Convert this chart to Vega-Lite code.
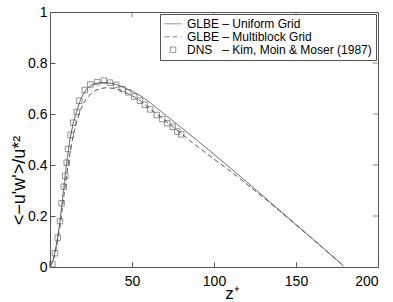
{
  "$schema": "https://vega.github.io/schema/vega-lite/v6.json",
  "autosize": {"type": "none"},
  "padding": {"left": 50, "top": 12, "right": 15, "bottom": 35},
  "width": 328,
  "height": 255,
  "config": {
    "view": {"stroke": "#555", "strokeWidth": 1},
    "font": "Liberation Sans",
    "axis": {
      "domain": false, "grid": false,
      "labelFont": "Liberation Sans", "labelFontSize": 14, "labelColor": "black",
      "tickColor": "#555", "tickWidth": 1,
      "titleFont": "Liberation Sans", "titleFontSize": 17, "titleColor": "black", "titleFontWeight": "normal"
    },
    "legend": {
      "orient": "top-right", "offset": 2,
      "fillColor": "white", "strokeColor": "#555", "padding": 4,
      "labelFont": "Liberation Sans", "labelFontSize": 12, "labelColor": "black", "labelLimit": 300,
      "labelOffset": 5, "rowPadding": 0, "clipHeight": 11.5,
      "symbolStrokeWidth": 1, "symbolStrokeColor": "#555", "symbolFillColor": "transparent"
    }
  },
  "datasets": {
    "lines": [
      {"series": "GLBE – Uniform Grid", "z": 0, "v": 0},
      {"series": "GLBE – Uniform Grid", "z": 2, "v": 0.03},
      {"series": "GLBE – Uniform Grid", "z": 4, "v": 0.09},
      {"series": "GLBE – Uniform Grid", "z": 6, "v": 0.175},
      {"series": "GLBE – Uniform Grid", "z": 8, "v": 0.29},
      {"series": "GLBE – Uniform Grid", "z": 10, "v": 0.40},
      {"series": "GLBE – Uniform Grid", "z": 12, "v": 0.495},
      {"series": "GLBE – Uniform Grid", "z": 14, "v": 0.56},
      {"series": "GLBE – Uniform Grid", "z": 16, "v": 0.605},
      {"series": "GLBE – Uniform Grid", "z": 18, "v": 0.645},
      {"series": "GLBE – Uniform Grid", "z": 20, "v": 0.675},
      {"series": "GLBE – Uniform Grid", "z": 22, "v": 0.695},
      {"series": "GLBE – Uniform Grid", "z": 25, "v": 0.712},
      {"series": "GLBE – Uniform Grid", "z": 28, "v": 0.72},
      {"series": "GLBE – Uniform Grid", "z": 32, "v": 0.724},
      {"series": "GLBE – Uniform Grid", "z": 36, "v": 0.722},
      {"series": "GLBE – Uniform Grid", "z": 40, "v": 0.716},
      {"series": "GLBE – Uniform Grid", "z": 45, "v": 0.704},
      {"series": "GLBE – Uniform Grid", "z": 50, "v": 0.689},
      {"series": "GLBE – Uniform Grid", "z": 55, "v": 0.672},
      {"series": "GLBE – Uniform Grid", "z": 60, "v": 0.65},
      {"series": "GLBE – Uniform Grid", "z": 65, "v": 0.624},
      {"series": "GLBE – Uniform Grid", "z": 70, "v": 0.598},
      {"series": "GLBE – Uniform Grid", "z": 80, "v": 0.547},
      {"series": "GLBE – Uniform Grid", "z": 90, "v": 0.495},
      {"series": "GLBE – Uniform Grid", "z": 100, "v": 0.442},
      {"series": "GLBE – Uniform Grid", "z": 110, "v": 0.388},
      {"series": "GLBE – Uniform Grid", "z": 120, "v": 0.333},
      {"series": "GLBE – Uniform Grid", "z": 130, "v": 0.278},
      {"series": "GLBE – Uniform Grid", "z": 140, "v": 0.222},
      {"series": "GLBE – Uniform Grid", "z": 150, "v": 0.166},
      {"series": "GLBE – Uniform Grid", "z": 160, "v": 0.111},
      {"series": "GLBE – Uniform Grid", "z": 170, "v": 0.055},
      {"series": "GLBE – Uniform Grid", "z": 179, "v": 0.004},
      {"series": "GLBE – Multiblock Grid", "z": 0, "v": 0},
      {"series": "GLBE – Multiblock Grid", "z": 2, "v": 0.025},
      {"series": "GLBE – Multiblock Grid", "z": 4, "v": 0.08},
      {"series": "GLBE – Multiblock Grid", "z": 6, "v": 0.155},
      {"series": "GLBE – Multiblock Grid", "z": 8, "v": 0.255},
      {"series": "GLBE – Multiblock Grid", "z": 10, "v": 0.355},
      {"series": "GLBE – Multiblock Grid", "z": 12, "v": 0.44},
      {"series": "GLBE – Multiblock Grid", "z": 14, "v": 0.51},
      {"series": "GLBE – Multiblock Grid", "z": 16, "v": 0.565},
      {"series": "GLBE – Multiblock Grid", "z": 18, "v": 0.605},
      {"series": "GLBE – Multiblock Grid", "z": 20, "v": 0.636},
      {"series": "GLBE – Multiblock Grid", "z": 22, "v": 0.658},
      {"series": "GLBE – Multiblock Grid", "z": 25, "v": 0.68},
      {"series": "GLBE – Multiblock Grid", "z": 28, "v": 0.693},
      {"series": "GLBE – Multiblock Grid", "z": 31, "v": 0.70},
      {"series": "GLBE – Multiblock Grid", "z": 34, "v": 0.703},
      {"series": "GLBE – Multiblock Grid", "z": 38, "v": 0.701},
      {"series": "GLBE – Multiblock Grid", "z": 42, "v": 0.695},
      {"series": "GLBE – Multiblock Grid", "z": 46, "v": 0.685},
      {"series": "GLBE – Multiblock Grid", "z": 50, "v": 0.672},
      {"series": "GLBE – Multiblock Grid", "z": 55, "v": 0.652},
      {"series": "GLBE – Multiblock Grid", "z": 60, "v": 0.626},
      {"series": "GLBE – Multiblock Grid", "z": 65, "v": 0.60},
      {"series": "GLBE – Multiblock Grid", "z": 70, "v": 0.575},
      {"series": "GLBE – Multiblock Grid", "z": 75, "v": 0.55},
      {"series": "GLBE – Multiblock Grid", "z": 80, "v": 0.523},
      {"series": "GLBE – Multiblock Grid", "z": 85, "v": 0.497},
      {"series": "GLBE – Multiblock Grid", "z": 90, "v": 0.472},
      {"series": "GLBE – Multiblock Grid", "z": 95, "v": 0.447},
      {"series": "GLBE – Multiblock Grid", "z": 100, "v": 0.423},
      {"series": "GLBE – Multiblock Grid", "z": 110, "v": 0.376},
      {"series": "GLBE – Multiblock Grid", "z": 120, "v": 0.325},
      {"series": "GLBE – Multiblock Grid", "z": 130, "v": 0.273},
      {"series": "GLBE – Multiblock Grid", "z": 140, "v": 0.22},
      {"series": "GLBE – Multiblock Grid", "z": 150, "v": 0.165},
      {"series": "GLBE – Multiblock Grid", "z": 160, "v": 0.11},
      {"series": "GLBE – Multiblock Grid", "z": 170, "v": 0.055},
      {"series": "GLBE – Multiblock Grid", "z": 179, "v": 0.004}
    ],
    "dns": [
      {"series": "DNS\u00a0\u00a0\u00a0– Kim, Moin & Moser (1987)", "z": 1.4, "v": 0.011},
      {"series": "DNS\u00a0\u00a0\u00a0– Kim, Moin & Moser (1987)", "z": 3.0, "v": 0.054},
      {"series": "DNS\u00a0\u00a0\u00a0– Kim, Moin & Moser (1987)", "z": 4.7, "v": 0.115},
      {"series": "DNS\u00a0\u00a0\u00a0– Kim, Moin & Moser (1987)", "z": 6.1, "v": 0.18},
      {"series": "DNS\u00a0\u00a0\u00a0– Kim, Moin & Moser (1987)", "z": 7.1, "v": 0.25},
      {"series": "DNS\u00a0\u00a0\u00a0– Kim, Moin & Moser (1987)", "z": 8.4, "v": 0.315},
      {"series": "DNS\u00a0\u00a0\u00a0– Kim, Moin & Moser (1987)", "z": 9.3, "v": 0.357},
      {"series": "DNS\u00a0\u00a0\u00a0– Kim, Moin & Moser (1987)", "z": 10.2, "v": 0.409},
      {"series": "DNS\u00a0\u00a0\u00a0– Kim, Moin & Moser (1987)", "z": 11.0, "v": 0.463},
      {"series": "DNS\u00a0\u00a0\u00a0– Kim, Moin & Moser (1987)", "z": 12.6, "v": 0.518},
      {"series": "DNS\u00a0\u00a0\u00a0– Kim, Moin & Moser (1987)", "z": 14.2, "v": 0.566},
      {"series": "DNS\u00a0\u00a0\u00a0– Kim, Moin & Moser (1987)", "z": 16.3, "v": 0.608},
      {"series": "DNS\u00a0\u00a0\u00a0– Kim, Moin & Moser (1987)", "z": 17.9, "v": 0.652},
      {"series": "DNS\u00a0\u00a0\u00a0– Kim, Moin & Moser (1987)", "z": 21.2, "v": 0.694},
      {"series": "DNS\u00a0\u00a0\u00a0– Kim, Moin & Moser (1987)", "z": 24.6, "v": 0.716},
      {"series": "DNS\u00a0\u00a0\u00a0– Kim, Moin & Moser (1987)", "z": 28.8, "v": 0.725},
      {"series": "DNS\u00a0\u00a0\u00a0– Kim, Moin & Moser (1987)", "z": 32.9, "v": 0.731},
      {"series": "DNS\u00a0\u00a0\u00a0– Kim, Moin & Moser (1987)", "z": 36.6, "v": 0.723},
      {"series": "DNS\u00a0\u00a0\u00a0– Kim, Moin & Moser (1987)", "z": 40.4, "v": 0.714},
      {"series": "DNS\u00a0\u00a0\u00a0– Kim, Moin & Moser (1987)", "z": 44.3, "v": 0.698},
      {"series": "DNS\u00a0\u00a0\u00a0– Kim, Moin & Moser (1987)", "z": 47.7, "v": 0.685},
      {"series": "DNS\u00a0\u00a0\u00a0– Kim, Moin & Moser (1987)", "z": 51.4, "v": 0.668},
      {"series": "DNS\u00a0\u00a0\u00a0– Kim, Moin & Moser (1987)", "z": 54.9, "v": 0.652},
      {"series": "DNS\u00a0\u00a0\u00a0– Kim, Moin & Moser (1987)", "z": 57.9, "v": 0.636},
      {"series": "DNS\u00a0\u00a0\u00a0– Kim, Moin & Moser (1987)", "z": 61.0, "v": 0.618},
      {"series": "DNS\u00a0\u00a0\u00a0– Kim, Moin & Moser (1987)", "z": 65.1, "v": 0.596},
      {"series": "DNS\u00a0\u00a0\u00a0– Kim, Moin & Moser (1987)", "z": 68.5, "v": 0.58},
      {"series": "DNS\u00a0\u00a0\u00a0– Kim, Moin & Moser (1987)", "z": 71.5, "v": 0.564},
      {"series": "DNS\u00a0\u00a0\u00a0– Kim, Moin & Moser (1987)", "z": 74.8, "v": 0.55},
      {"series": "DNS\u00a0\u00a0\u00a0– Kim, Moin & Moser (1987)", "z": 77.6, "v": 0.531},
      {"series": "DNS\u00a0\u00a0\u00a0– Kim, Moin & Moser (1987)", "z": 80.0, "v": 0.52}
    ],
    "xticks": [{"z": 50, "v": 1}, {"z": 100, "v": 1}, {"z": 150, "v": 1}],
    "yticks": [{"z": 200, "v": 0.2}, {"z": 200, "v": 0.4}, {"z": 200, "v": 0.6}, {"z": 200, "v": 0.8}]
  },
  "encoding": {
    "x": {"field": "z", "type": "quantitative", "scale": {"domain": [0, 200], "nice": false}},
    "y": {"field": "v", "type": "quantitative", "scale": {"domain": [0, 1], "nice": false}}
  },
  "layer": [
    {
      "data": {"name": "lines"},
      "mark": {"type": "line", "color": "#555", "strokeWidth": 1},
      "encoding": {
        "x": {
          "field": "z", "type": "quantitative",
          "axis": {"orient": "bottom", "values": [50, 100, 150, 200], "tickSize": -5, "labelPadding": 12,
                   "title": "z⁺", "titleX": 182, "titleY": 31, "titleAlign": "center", "titleBaseline": "alphabetic"}
        },
        "y": {
          "field": "v", "type": "quantitative",
          "axis": {"orient": "left", "values": [0, 0.2, 0.4, 0.6, 0.8, 1], "format": "~g", "tickSize": -5, "labelPadding": 8,
                   "title": "<−u'w'>/u*²", "titleFontSize": 18, "titleX": -22, "titleY": 168, "titleAngle": -90, "titleAlign": "center", "titleBaseline": "bottom"}
        },
        "strokeDash": {
          "field": "series", "type": "nominal",
          "scale": {
            "domain": ["GLBE – Uniform Grid", "GLBE – Multiblock Grid", "DNS\u00a0\u00a0\u00a0– Kim, Moin & Moser (1987)"],
            "range": [[1, 0], [5, 3], [1, 0]]
          },
          "legend": {"title": null}
        }
      }
    },
    {
      "data": {"name": "dns"},
      "mark": {"type": "point", "filled": false, "color": "#555", "strokeWidth": 0.9},
      "encoding": {
        "shape": {
          "field": "series", "type": "nominal",
          "scale": {
            "domain": ["GLBE – Uniform Grid", "GLBE – Multiblock Grid", "DNS\u00a0\u00a0\u00a0– Kim, Moin & Moser (1987)"],
            "range": ["stroke", "stroke", "square"]
          },
          "legend": {"title": null}
        },
        "size": {
          "field": "series", "type": "nominal",
          "scale": {
            "type": "ordinal",
            "domain": ["GLBE – Uniform Grid", "GLBE – Multiblock Grid", "DNS\u00a0\u00a0\u00a0– Kim, Moin & Moser (1987)"],
            "range": [289, 289, 30]
          },
          "legend": {"title": null}
        }
      }
    },
    {
      "data": {"name": "xticks"},
      "mark": {"type": "tick", "orient": "vertical", "size": 10, "thickness": 1, "color": "#555", "clip": true}
    },
    {
      "data": {"name": "yticks"},
      "mark": {"type": "tick", "orient": "horizontal", "size": 10, "thickness": 1, "color": "#555", "clip": true}
    }
  ]
}
